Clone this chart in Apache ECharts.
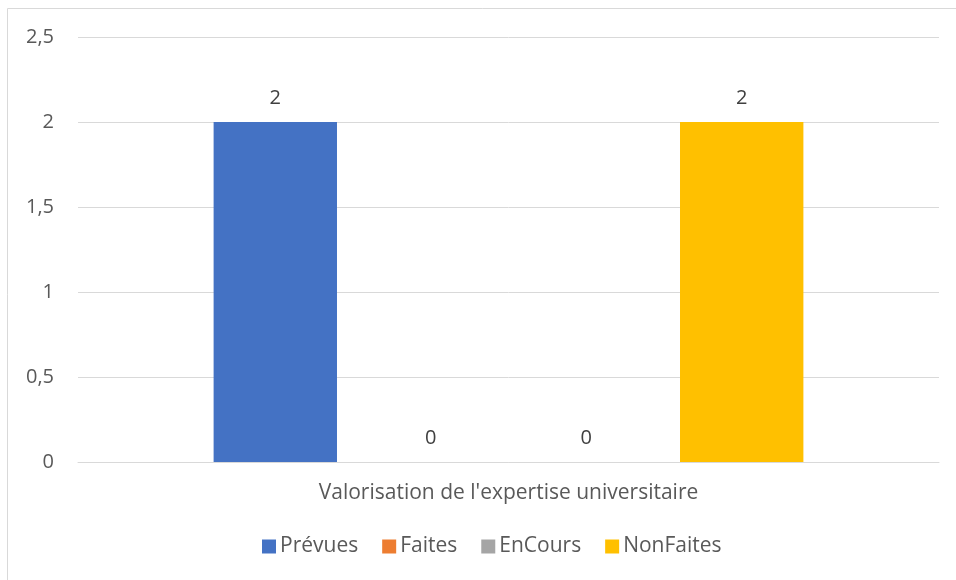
<!DOCTYPE html>
<html>
<head>
<meta charset="utf-8">
<script src="https://cdn.jsdelivr.net/npm/echarts@6/dist/echarts.min.js"></script>
<style>
  html, body { margin: 0; padding: 0; background: #fff; overflow: hidden; }
  #chart { width: 956px; height: 580px; }
</style>
</head>
<body>
<div id="chart"></div>
<script>
const categories = ["Valorisation de l'expertise universitaire"];
const seriesNames = ["Prévues", "Faites", "EnCours", "NonFaites"];
const seriesColors = ["#4472C4", "#ED7D31", "#A5A5A5", "#FFC000"];
const prevues = [2];
const faites = [0];
const enCours = [0];
const nonFaites = [2];
const yTicks = { min: 0, max: 2.5, interval: 0.5 };

(function () {
  const chart = echarts.init(document.getElementById("chart"));
  const font = "'Open Sans', 'Noto Sans', sans-serif";
  const values = [prevues, faites, enCours, nonFaites];

  const series = seriesNames.map((name, i) => ({
    name,
    type: "bar",
    data: values[i],
    itemStyle: { color: seriesColors[i] },
    barGap: "26%",
    barCategoryGap: "31.5%",
    label: {
      show: true,
      position: "top",
      distance: 14,
      color: "#404040",
      fontSize: 20,
      fontFamily: font,
    },
  }));

  chart.setOption({
    animation: false,
    textStyle: { fontFamily: font },
    // chart frame: only the left and top edges fall inside the picture
    graphic: [{
      type: "polyline",
      shape: { points: [[7.5, 600], [7.5, 8.5], [1000, 8.5]] },
      style: { fill: "none", stroke: "#d9d9d9", lineWidth: 1 },
      silent: true,
      z: -10,
    }],
    grid: { left: 78, right: 17, top: 37, bottom: 118, containLabel: false },
    legend: {
      bottom: 18,
      left: 257,
      itemWidth: 14,
      itemHeight: 14,
      itemGap: 24,
      icon: "rect",
      textStyle: { color: "#595959", fontSize: 21, fontFamily: font, padding: [0, 0, 0, -1] },
    },
    xAxis: {
      type: "category",
      data: categories,
      axisLine: { lineStyle: { color: "#d9d9d9", width: 1 } },
      axisTick: { show: false },
      axisLabel: { color: "#595959", fontSize: 21, fontFamily: font, margin: 21 },
    },
    yAxis: {
      type: "value",
      min: yTicks.min,
      max: yTicks.max,
      interval: yTicks.interval,
      axisLine: { show: false },
      axisTick: { show: false },
      splitLine: { lineStyle: { color: "#d9d9d9", width: 1 } },
      axisLabel: {
        color: "#595959",
        fontSize: 20,
        fontFamily: font,
        margin: 24,
        formatter: (v) => String(v).replace(".", ","),
      },
    },
    series,
  });
})();
</script>
</body>
</html>
